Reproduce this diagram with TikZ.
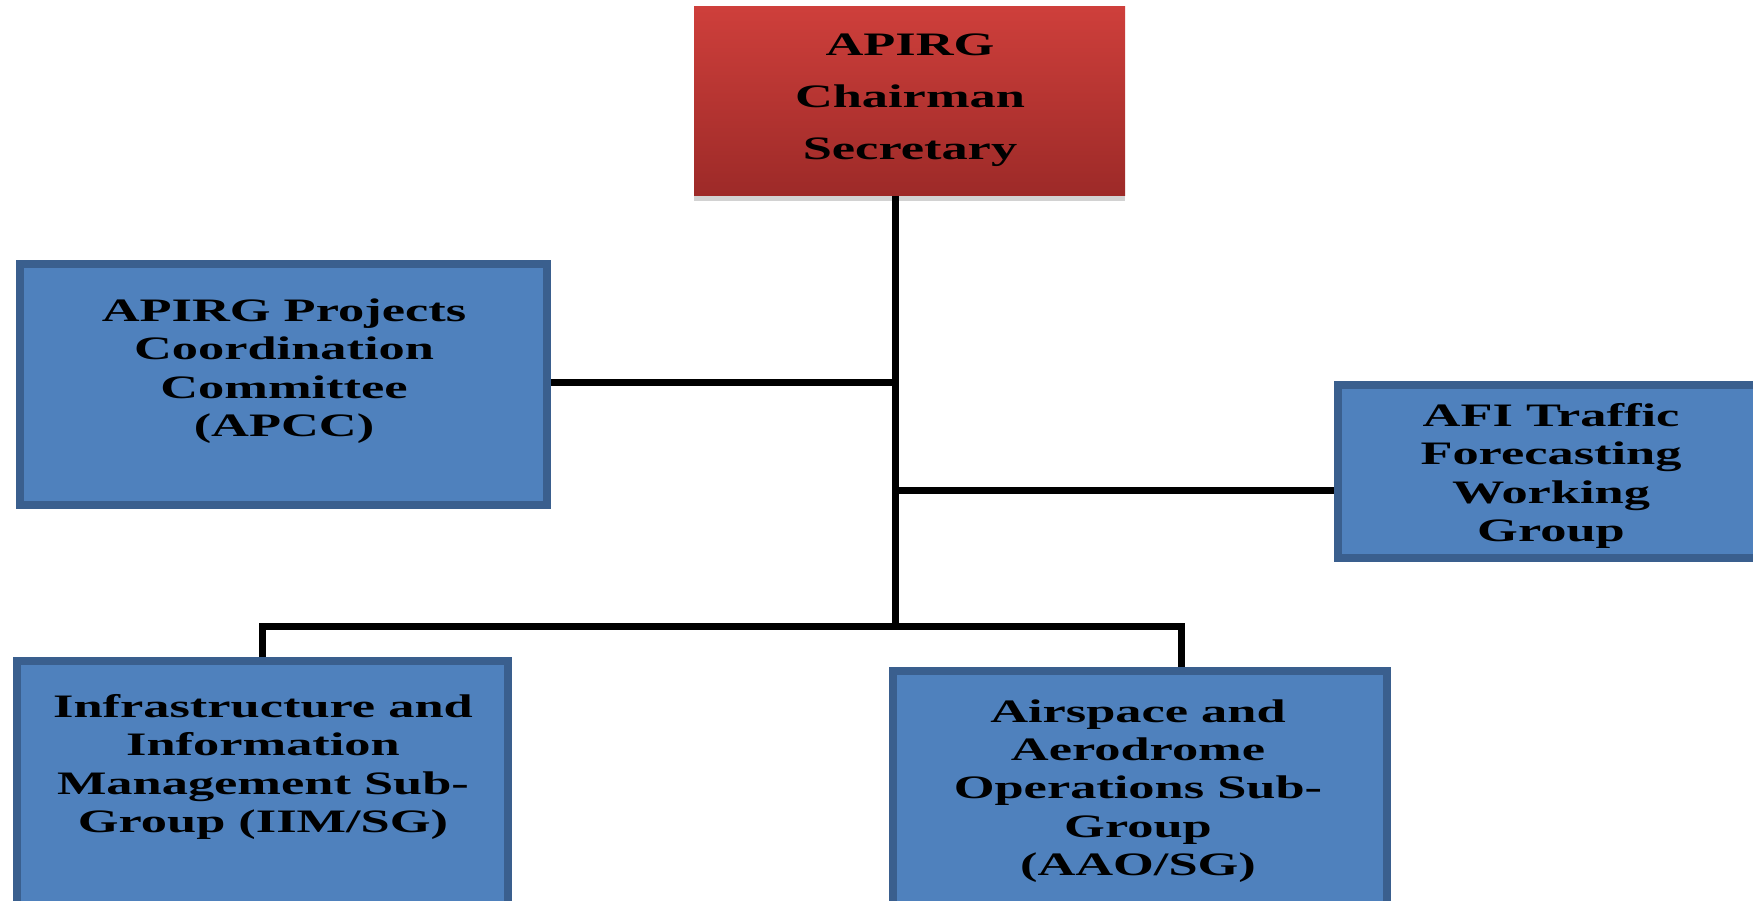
\documentclass[tikz,border=0pt]{standalone}
\usepackage{fontspec}
\usepackage{xcolor}
\usetikzlibrary{shadows}
\newfontfamily\orgfont{Liberation Serif}[FakeStretch=1.6]
\definecolor{boxblue}{HTML}{4F81BD}
\definecolor{boxedge}{HTML}{3A5F8E}
\definecolor{chairtop}{HTML}{CE3F3B}
\definecolor{chairbot}{HTML}{9D2A28}

\begin{document}
\begin{tikzpicture}[x=0.4pt,y=-0.4pt,
  unit/.style={rectangle,draw=boxedge,line width=3.2pt,fill=boxblue,inner sep=0pt},
  chairbox/.style={rectangle,inner sep=0pt,top color=chairtop,bottom color=chairbot,
    drop shadow={shadow xshift=0pt,shadow yshift=-2.5pt,opacity=0.35}},
  lbl/.style={align=center,inner sep=0pt,font=\orgfont\bfseries\fontsize{13.1pt}{15.3pt}\selectfont},
  toplbl/.style={lbl,font=\orgfont\bfseries\fontsize{13.1pt}{20.8pt}\selectfont},
  link/.style={line width=2.8pt}]
\useasboundingbox (0,0) rectangle (1753,900);
\fill[white] (0,0) rectangle (1753,900);
\clip (0,0) rectangle (1753,900);

\node (chair)[chairbox,minimum width=172.4pt,minimum height=75.2pt] at (909.5,101) {};
\node (apcc)[unit,minimum width=210.8pt,minimum height=96.4pt] at (283.5,384.5) {};
\node (afi)[unit,minimum width=184.8pt,minimum height=69.2pt] at (1569,471.5) {};
\node (iim)[unit,minimum width=196.4pt,minimum height=119.6pt] at (262.5,810.5) {};
\node (aao)[unit,minimum width=197.6pt,minimum height=119.6pt] at (1140,820.5) {};

\node (chairtxt)[toplbl] at (910,100) {APIRG\\Chairman\\Secretary};
\node (apcctxt)[lbl] at (284,371) {APIRG Projects\\Coordination\\Committee\\(APCC)};
\node (afitxt)[lbl] at (1551,476) {AFI Traffic\\Forecasting\\Working\\Group};
\node (iimtxt)[lbl] at (263,767) {Infrastructure and\\Information\\Management Sub-\\Group (IIM/SG)};
\node (aaotxt)[lbl] at (1138,791) {Airspace and\\Aerodrome\\Operations Sub-\\Group\\(AAO/SG)};

\coordinate (hub) at (895,626);
\coordinate (teeL) at (895,382);
\coordinate (teeR) at (895,490);
\coordinate (dropR) at (1181,626);

\draw[link] (chair.south -| hub) -- (hub);
\draw[link] (apcc.east |- teeL) -- (teeL);
\draw[link] (teeR) -- (teeR -| afi.west);
\draw[link] (iim.north) |- (dropR) -- (dropR |- aao.north);
\end{tikzpicture}
\end{document}
